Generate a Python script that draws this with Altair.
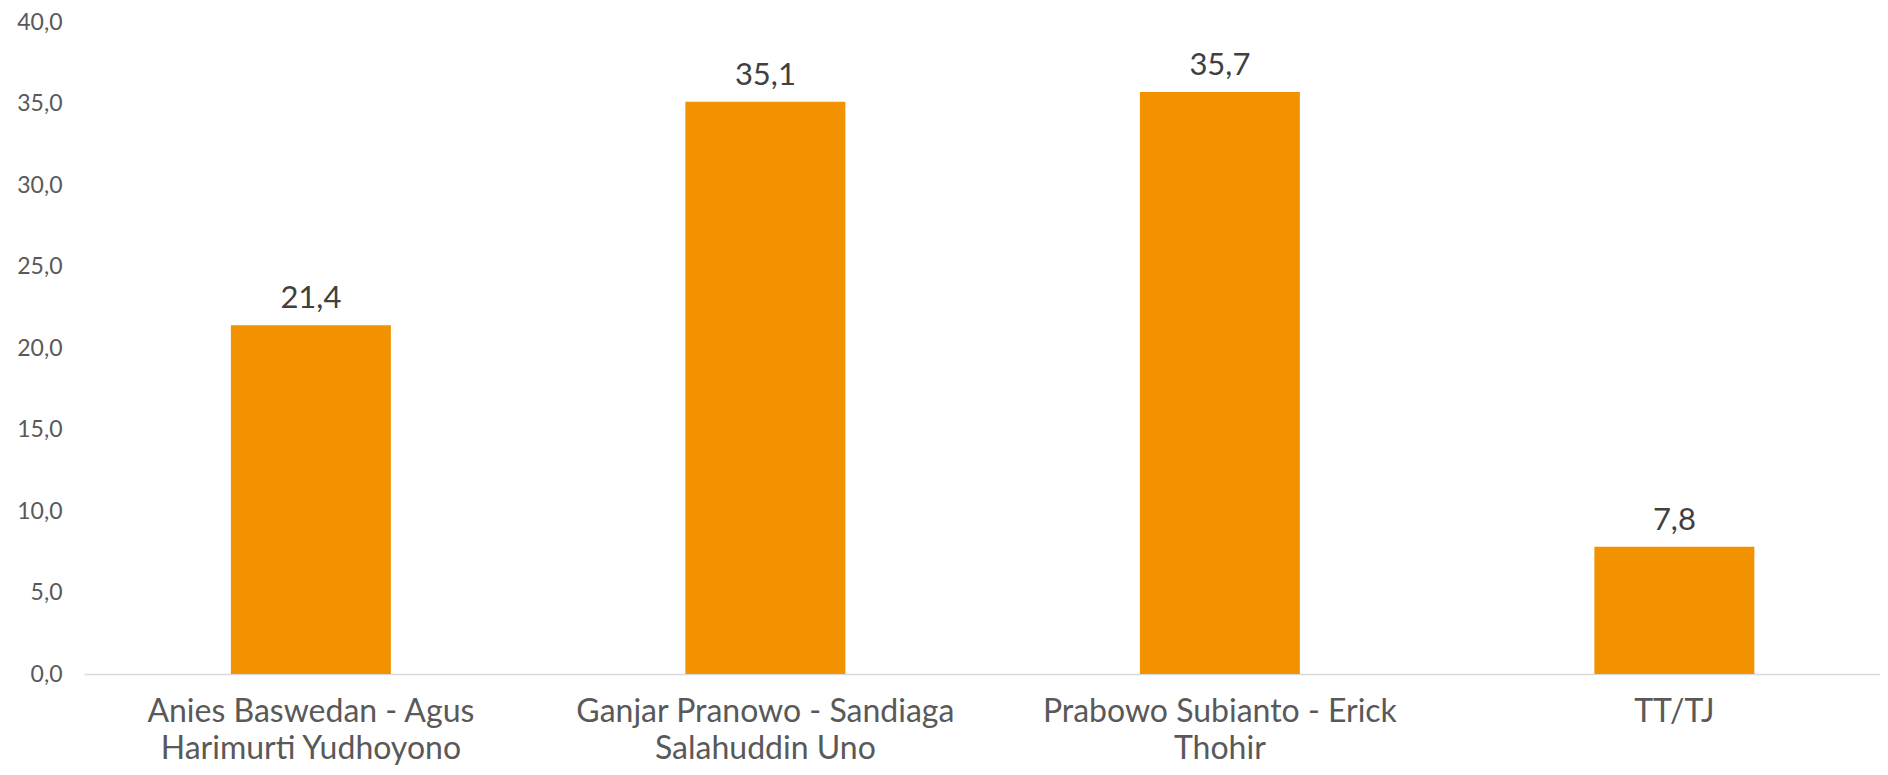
import altair as alt
import pandas as pd

categories = [
    "Anies Baswedan - Agus\nHarimurti Yudhoyono",
    "Ganjar Pranowo - Sandiaga\nSalahuddin Uno",
    "Prabowo Subianto - Erick\nThohir",
    "TT/TJ",
]
values = [21.4, 35.1, 35.7, 7.8]
y_ticks = [0, 5, 10, 15, 20, 25, 30, 35, 40]

df = pd.DataFrame({"cat": categories, "val": values})

FONT = "Lato"
ORANGE = "#F39200"

x = alt.X(
    "cat:N",
    sort=categories,
    title=None,
    scale=alt.Scale(paddingInner=0.648, paddingOuter=0.2998, align=0.539),
    axis=alt.Axis(
        labelAngle=0,
        labelFont=FONT,
        labelFontSize=32,
        labelLineHeight=37,
        labelColor="#595959",
        labelPadding=22,
        labelLimit=0,
        ticks=False,
        domainColor="#d9d9d9",
        domainWidth=1.5,
        labelExpr="split(datum.label, '\\n')",
    ),
)
y = alt.Y(
    "val:Q",
    title=None,
    scale=alt.Scale(domain=[0, 40], nice=False),
    axis=alt.Axis(
        values=y_ticks,
        grid=False,
        domain=False,
        ticks=False,
        labelFont=FONT,
        labelFontSize=23,
        labelColor="#595959",
        labelPadding=22,
        labelExpr="replace(format(datum.value, '.1f'), '.', ',')",
    ),
)

base = alt.Chart(df).transform_calculate(
    lbl="replace(format(datum.val, '.1f'), '.', ',')"
)

bars = base.mark_bar(color=ORANGE).encode(x=x, y=y)
texts = base.mark_text(
    font=FONT, fontSize=31, color="#404040", baseline="alphabetic", dy=-17
).encode(x=x, y=y, text="lbl:N")

chart = (
    (bars + texts)
    .properties(
        width=1796,
        height=652,
        padding={"left": 76, "top": 14, "right": 0, "bottom": 93},
        autosize=alt.AutoSizeParams(type="none"),
    )
    .configure_view(stroke=None)
)

chart.save("out.html", embed_options={"renderer": "svg", "actions": False})
